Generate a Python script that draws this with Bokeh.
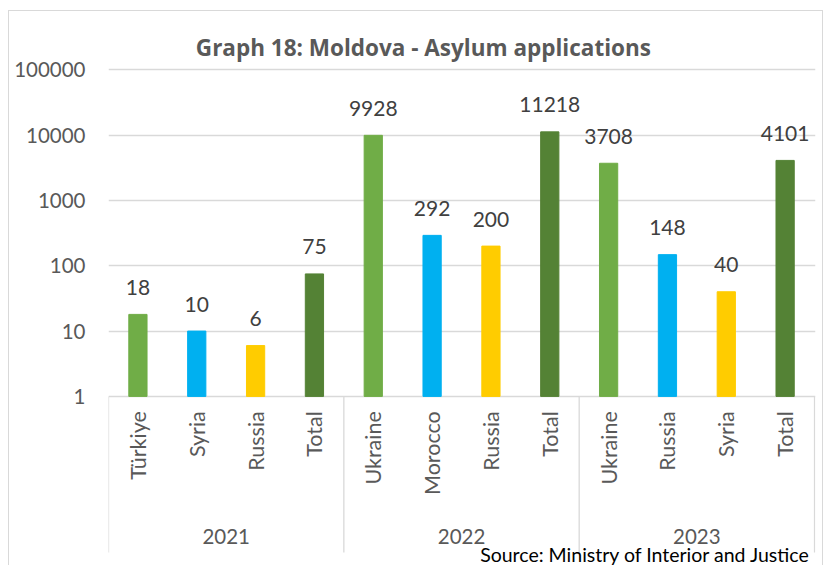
import math
from bokeh.plotting import figure
from bokeh.models import Range1d, FixedTicker, NumeralTickFormatter
from bokeh.core.properties import value
from bokeh.embed import file_html
from bokeh.resources import INLINE

# ---- data ----
years = ["2021", "2022", "2023"]
group_sizes = [4, 4, 4]
countries = ["Türkiye", "Syria", "Russia", "Total",
             "Ukraine", "Morocco", "Russia", "Total",
             "Ukraine", "Russia", "Syria", "Total"]
applications = [18, 10, 6, 75,
                9928, 292, 200, 11218,
                3708, 148, 40, 4101]
kinds = ["first", "second", "third", "total"] * 3
y_ticks = [1, 10, 100, 1000, 10000, 100000]
title_text = "Graph 18: Moldova - Asylum applications"
source_text = "Source: Ministry of Interior and Justice"

palette = {"first": "#70AD47", "second": "#00B0F0", "third": "#FFCC00", "total": "#548235"}
FONT = "Lato"

# ---- layout helpers (page pixel -> data) ----
PX_TOP = 11          # canvas top on page
PX_BOTTOM = 565
PX_PER_DEC = 65.2
PX_Y_1E5 = 69.2


def ylog(px):
    return 10 ** (5 - (px - PX_Y_1E5) / PX_PER_DEC)


SLOT = 58.67
PX_X0 = 108


def xd(px):
    return (px - PX_X0) / SLOT


n = len(countries)
frame_w = 705
p = figure(width=815, height=PX_BOTTOM - PX_TOP + 1,
           y_axis_type="log",
           x_range=Range1d(0, frame_w / SLOT),
           y_range=Range1d(ylog(PX_BOTTOM), ylog(PX_TOP)),
           x_axis_location=None,
           output_backend="svg", toolbar_location=None,
           min_border_left=99, min_border_right=9,
           min_border_top=0, min_border_bottom=0)
p.styles = {"margin-left": "8px", "margin-top": "10px",
            "border-left": "1px solid #D9D9D9",
            "border-top": "1px solid #D9D9D9",
            "border-right": "1px solid #D9D9D9"}
p.outline_line_color = None
p.background_fill_color = "white"
p.border_fill_color = "white"

xs = [i + 0.5 for i in range(n)]
cols = [palette[k] for k in kinds]
p.vbar(x=xs, top=applications, bottom=1, width=0.31, color=cols)

# y axis
ax = p.yaxis[0]
ax.ticker = FixedTicker(ticks=y_ticks)
ax.formatter = NumeralTickFormatter(format="0")
ax.axis_line_color = None
ax.major_tick_line_color = None
ax.minor_tick_line_color = None
ax.major_tick_out = 0
ax.major_tick_in = 0
ax.minor_tick_out = 0
ax.minor_tick_in = 0
ax.major_label_standoff = 23
ax.major_label_text_font = FONT
ax.major_label_text_font_size = "20.5px"
ax.major_label_text_color = "#595959"

p.xgrid.visible = False
p.ygrid.ticker = FixedTicker(ticks=y_ticks)
p.ygrid.grid_line_color = "#D9D9D9"
p.ygrid.grid_line_width = 1.3

# value labels
p.text(x=xs, y=applications, text=[str(v) for v in applications],
       y_offset=-27, text_align="center", text_baseline="middle",
       text_font=value(FONT), text_font_size="21px", text_color="#404040")

# category labels (rotated)
p.text(x=xs, y=[ylog(410)] * n, text=countries, angle=math.pi / 2,
       text_align="right", text_baseline="middle",
       text_font=value(FONT), text_font_size="21.5px", text_color="#595959")

# group separators
seps = [0]
for g in group_sizes:
    seps.append(seps[-1] + g)
p.segment(x0=seps, y0=[1] * len(seps), x1=seps, y1=[ylog(551)] * len(seps),
          line_color="#D9D9D9", line_width=1.3)

# year labels
centers = [(seps[i] + seps[i + 1]) / 2 for i in range(len(years))]
p.text(x=centers, y=[ylog(535)] * len(years), text=years,
       text_align="center", text_baseline="middle",
       text_font=value(FONT), text_font_size="20.5px", text_color="#595959")

# title
p.text(x=[xd(422)], y=[ylog(47)], text=[title_text],
       text_align="center", text_baseline="middle",
       text_font=value("Open Sans"), text_font_size="22.5px", text_font_style="bold",
       text_color="#595959")

# source
p.text(x=[xd(808)], y=[ylog(553)], text=[source_text],
       text_align="right", text_baseline="middle",
       text_font=value(FONT), text_font_size="19.5px", text_color="#000000")

open("out.html", "w").write(file_html(p, INLINE))
